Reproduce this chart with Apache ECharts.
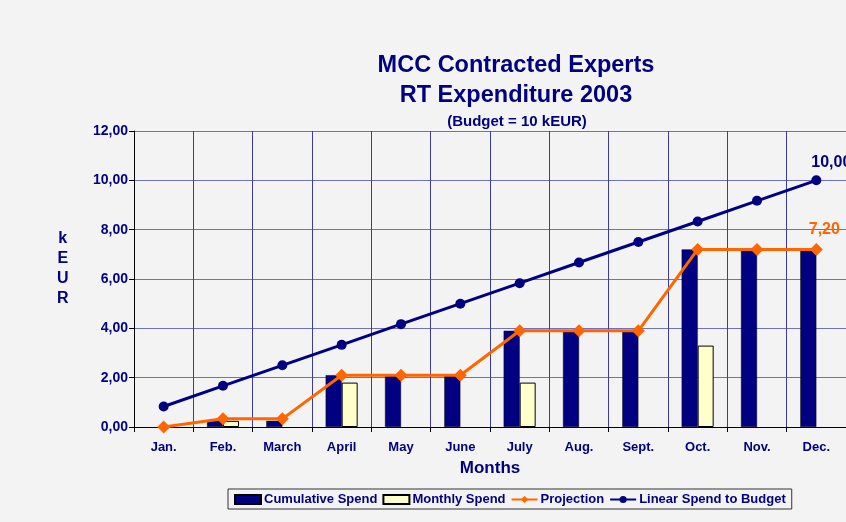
<!DOCTYPE html>
<html><head><meta charset="utf-8">
<script src="https://cdn.jsdelivr.net/npm/echarts@6/dist/echarts.min.js"></script>
<style>html,body{margin:0;padding:0;background:#f3f3f3}#c{width:846px;height:522px}</style>
</head><body><div id="c"></div>
<script>
const months = ['Jan.','Feb.','March','April','May','June','July','Aug.','Sept.','Oct.','Nov.','Dec.'];
const cumulativeSpend = [0, 0.25, 0.25, 2.1, 2.1, 2.1, 3.9, 3.9, 3.9, 7.2, 7.2, 7.2];
const monthlySpend = [0, 0.25, 0, 1.8, 0, 0, 1.8, 0, 0, 3.3, 0, 0];
const projection = [0, 0.33, 0.33, 2.1, 2.1, 2.1, 3.9, 3.9, 3.9, 7.2, 7.2, 7.2];
const linearBudget = [0.83, 1.67, 2.5, 3.33, 4.17, 5.0, 5.83, 6.67, 7.5, 8.33, 9.17, 10.0];
const yTicks = [0, 2, 4, 6, 8, 10, 12];

const navy = '#000080', orange = '#ff6600', cream = '#ffffcc';
const fmt = v => v.toFixed(2).replace('.', ',');
const font = 'Liberation Sans, Arial, sans-serif';
const hideZero = arr => arr.map(v => v === 0 ? '-' : v);

const chart = echarts.init(document.getElementById('c'));
chart.setOption({
  backgroundColor: '#f3f3f3',
  animation: false,
  textStyle: {fontFamily: font},
  title: [
    {text: 'MCC Contracted Experts\nRT Expenditure 2003', left: 511, top: 46, textAlign: 'center',
     textStyle: {color: navy, fontSize: 23.5, fontWeight: 'bold', fontFamily: font, lineHeight: 30}},
    {text: '(Budget = 10 kEUR)', left: 512, top: 109, textAlign: 'center',
     textStyle: {color: navy, fontSize: 15, fontWeight: 'bold', fontFamily: font}}
  ],
  graphic: [{type: 'text', left: 57, top: 229,
    style: {text: 'k\nE\nU\nR', fill: navy, font: 'bold 16px ' + font, lineHeight: 20, textAlign: 'center'}}],
  legend: {
    left: 228, top: 489, width: 570,
    data: [{name: 'Cumulative Spend', icon: 'rect'}, {name: 'Monthly Spend', icon: 'rect'}, 'Projection', 'Linear Spend to Budget'],
    borderColor: '#333', borderWidth: 1, padding: [4, 6, 3, 6], itemGap: 5,
    itemWidth: 26, itemHeight: 9, backgroundColor: '#f3f3f3',
    textStyle: {color: navy, fontWeight: 'bold', fontSize: 13, fontFamily: font, padding: [0,0,0,-2]}
  },
  grid: {left: 134, right: 0, top: 131, bottom: 95},
  xAxis: {
    type: 'category', data: months, name: 'Months', nameLocation: 'middle', nameGap: 33,
    nameTextStyle: {color: navy, fontWeight: 'bold', fontSize: 17, fontFamily: font},
    axisLine: {lineStyle: {color: '#000'}},
    axisTick: {show: true, length: 5, lineStyle: {color: '#000'}},
    axisLabel: {color: navy, fontWeight: 'bold', fontSize: 13, margin: 14, fontFamily: font},
    splitLine: {show: true, lineStyle: {color: '#3c3ca0', width: 1}}
  },
  yAxis: {
    type: 'value', min: yTicks[0], max: yTicks[yTicks.length-1], interval: 2,
    axisLine: {show: true, lineStyle: {color: '#000'}},
    axisTick: {show: true, length: 5, lineStyle: {color: '#000'}},
    axisLabel: {color: navy, fontWeight: 'bold', fontSize: 14, margin: 6, formatter: v => fmt(v), fontFamily: font},
    splitLine: {lineStyle: {color: '#7070c0', width: 1}}
  },
  series: [
    {name: 'Cumulative Spend', type: 'bar', data: hideZero(cumulativeSpend), barWidth: 16, barGap: '0%',
     itemStyle: {color: navy, borderColor: '#000', borderWidth: 0.5}},
    {name: 'Monthly Spend', type: 'bar', data: hideZero(monthlySpend), barWidth: 16,
     itemStyle: {color: cream, borderColor: '#000', borderWidth: 1}},
    {name: 'Projection', type: 'line', data: projection.map((v, i) => i === projection.length-1 ?
        {value: v, label: {show: true, formatter: p => fmt(p.value), position: 'top', offset: [8, 0],
          color: orange, fontWeight: 'bold', fontSize: 16, fontFamily: font}} : v),
     symbol: 'diamond', symbolSize: 13, lineStyle: {color: orange, width: 3},
     itemStyle: {color: orange}, z: 5},
    {name: 'Linear Spend to Budget', type: 'line', data: linearBudget.map((v, i) => i === linearBudget.length-1 ?
        {value: v, label: {show: true, formatter: p => fmt(p.value), position: 'top', offset: [15, 0],
          color: navy, fontWeight: 'bold', fontSize: 16, fontFamily: font}} : v),
     symbol: 'circle', symbolSize: 10, lineStyle: {color: navy, width: 3},
     itemStyle: {color: navy}, z: 6}
  ]
});
</script></body></html>
